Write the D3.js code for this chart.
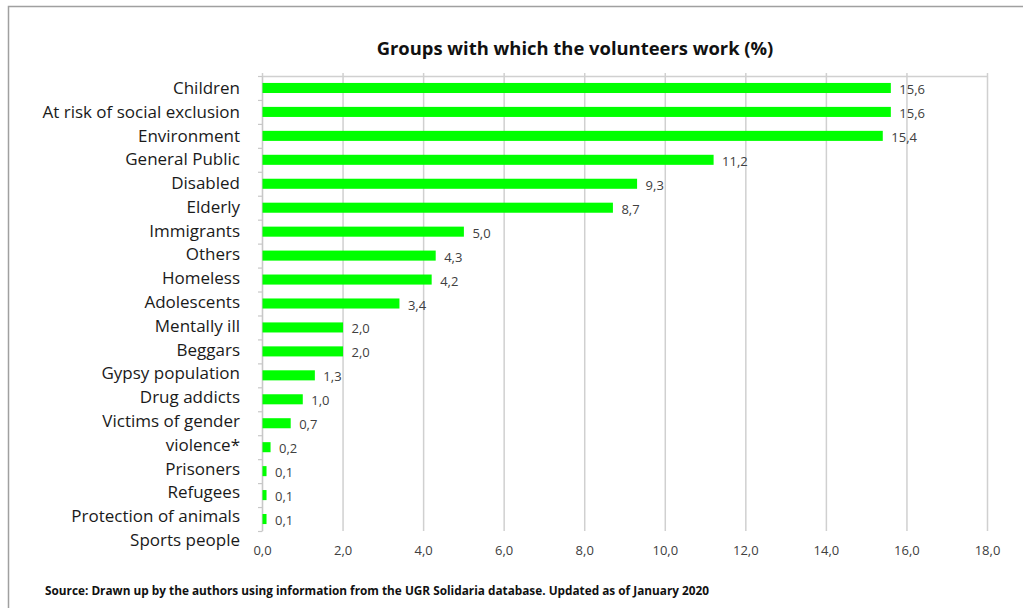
<!DOCTYPE html>
<html><head><meta charset="utf-8">
<script src="https://cdn.jsdelivr.net/npm/d3@7"></script>
<style>
body{margin:0;background:#fff;}
svg{display:block;font-family:"Open Sans",Lato,sans-serif;}
</style></head>
<body><svg id="c" width="1023" height="608"></svg>
<script>
const categories = ["Children","At risk of social exclusion","Environment","General Public","Disabled","Elderly","Immigrants","Others","Homeless","Adolescents","Mentally ill","Beggars","Gypsy population","Drug addicts","Victims of gender violence*","Prisoners","Refugees","Protection of animals","Sports people"];
const values = [15.6,15.6,15.4,11.2,9.3,8.7,5.0,4.3,4.2,3.4,2.0,2.0,1.3,1.0,0.7,0.2,0.1,0.1,0.1];
const xTicks = [0,2,4,6,8,10,12,14,16,18];
const title = "Groups with which the volunteers work (%)";
const source = "Source: Drawn up by the authors using information from the UGR Solidaria database. Updated as of January 2020";
const wrapped = {"Victims of gender violence*": ["Victims of gender","violence*"]};

const svg = d3.select("#c");
const L = 262, R = 987, T = 76, B = 531;
const fmt = v => d3.format(".1f")(v).replace(".", ",");

// outer frame
svg.append("path").attr("d","M8.5,608 V6.5 H1023").attr("fill","none").attr("stroke","#a0a0a0").attr("stroke-width",1.5);

const x = d3.scaleLinear().domain([0,18]).range([L,R]);
const y = d3.scaleBand().domain(categories).range([T,B]).paddingInner(0.58).paddingOuter(0.29);
const yIdx = d3.scaleLinear().domain([0,categories.length]).range([T,B]);

// gridlines
const gridG = svg.append("g").attr("transform",`translate(0,${T})`)
  .call(d3.axisTop(x).tickValues(xTicks).tickSize(-(B-T)).tickFormat(""));
gridG.select(".domain").remove();
gridG.selectAll("line").attr("stroke","#d0d0d0").attr("stroke-width",1.5);

// top axis line with outward ticks
const topG = svg.append("g").attr("transform",`translate(0,${T})`)
  .call(d3.axisTop(x).tickValues(xTicks).tickSizeInner(3).tickSizeOuter(0).tickFormat(""));
topG.select(".domain").attr("stroke","#d0d0d0").attr("stroke-width",1.5);
topG.selectAll("line").attr("stroke","#d0d0d0").attr("stroke-width",1.5);

// left axis
const leftG = svg.append("g").attr("transform",`translate(${L},0)`)
  .call(d3.axisLeft(yIdx).tickValues(d3.range(0,categories.length+1)).tickSizeInner(4).tickSizeOuter(0).tickFormat(""));
leftG.select(".domain").attr("stroke","#c8c8c8").attr("stroke-width",1.2);
leftG.selectAll("line").attr("stroke","#c8c8c8").attr("stroke-width",1.2);

// bars
svg.append("g").selectAll("rect").data(values).join("rect")
  .attr("x", x(0)+0.5)
  .attr("y",(d,i)=>y(categories[i]))
  .attr("width",d=>x(d)-x(0))
  .attr("height",y.bandwidth())
  .attr("fill","#00ff00");

// data labels
svg.append("g").selectAll("text").data(values).join("text")
  .attr("x",d=>x(d)+9)
  .attr("y",(d,i)=>y(categories[i])+y.bandwidth()/2+1.5)
  .attr("dy","0.35em")
  .attr("font-size",13).attr("fill","#404040")
  .text(d=>fmt(d));

// x tick labels at bottom
const botG = svg.append("g").attr("transform",`translate(0,${B+19})`)
  .call(d3.axisBottom(x).tickValues(xTicks).tickSize(0).tickFormat(fmt));
botG.select(".domain").remove();
botG.selectAll("text").attr("font-family","Open Sans").attr("font-size",13).attr("fill","#404040").attr("dy","0.35em").attr("y",0);

// category labels (stacked lines, as drawn)
const lines = categories.flatMap(c => wrapped[c] || [c]);
svg.append("g").selectAll("text").data(lines).join("text")
  .attr("x",240)
  .attr("y",(d,i)=>y(categories[0])+y.bandwidth()/2 + i*(452/19))
  .attr("dy","0.35em")
  .attr("text-anchor","end")
  .attr("font-size",17).attr("fill","#1a1a1a")
  .text(d=>d);

// title
svg.append("text").attr("x",575).attr("y",49).attr("dy","0.35em")
  .attr("text-anchor","middle").attr("font-weight","bold").attr("font-size",18.4).attr("fill","#111")
  .text(title);

// source
svg.append("text").attr("x",45).attr("y",591).attr("dy","0.35em")
  .attr("font-weight","bold").attr("font-size",11.8).attr("fill","#111")
  .text(source);
</script></body></html>
